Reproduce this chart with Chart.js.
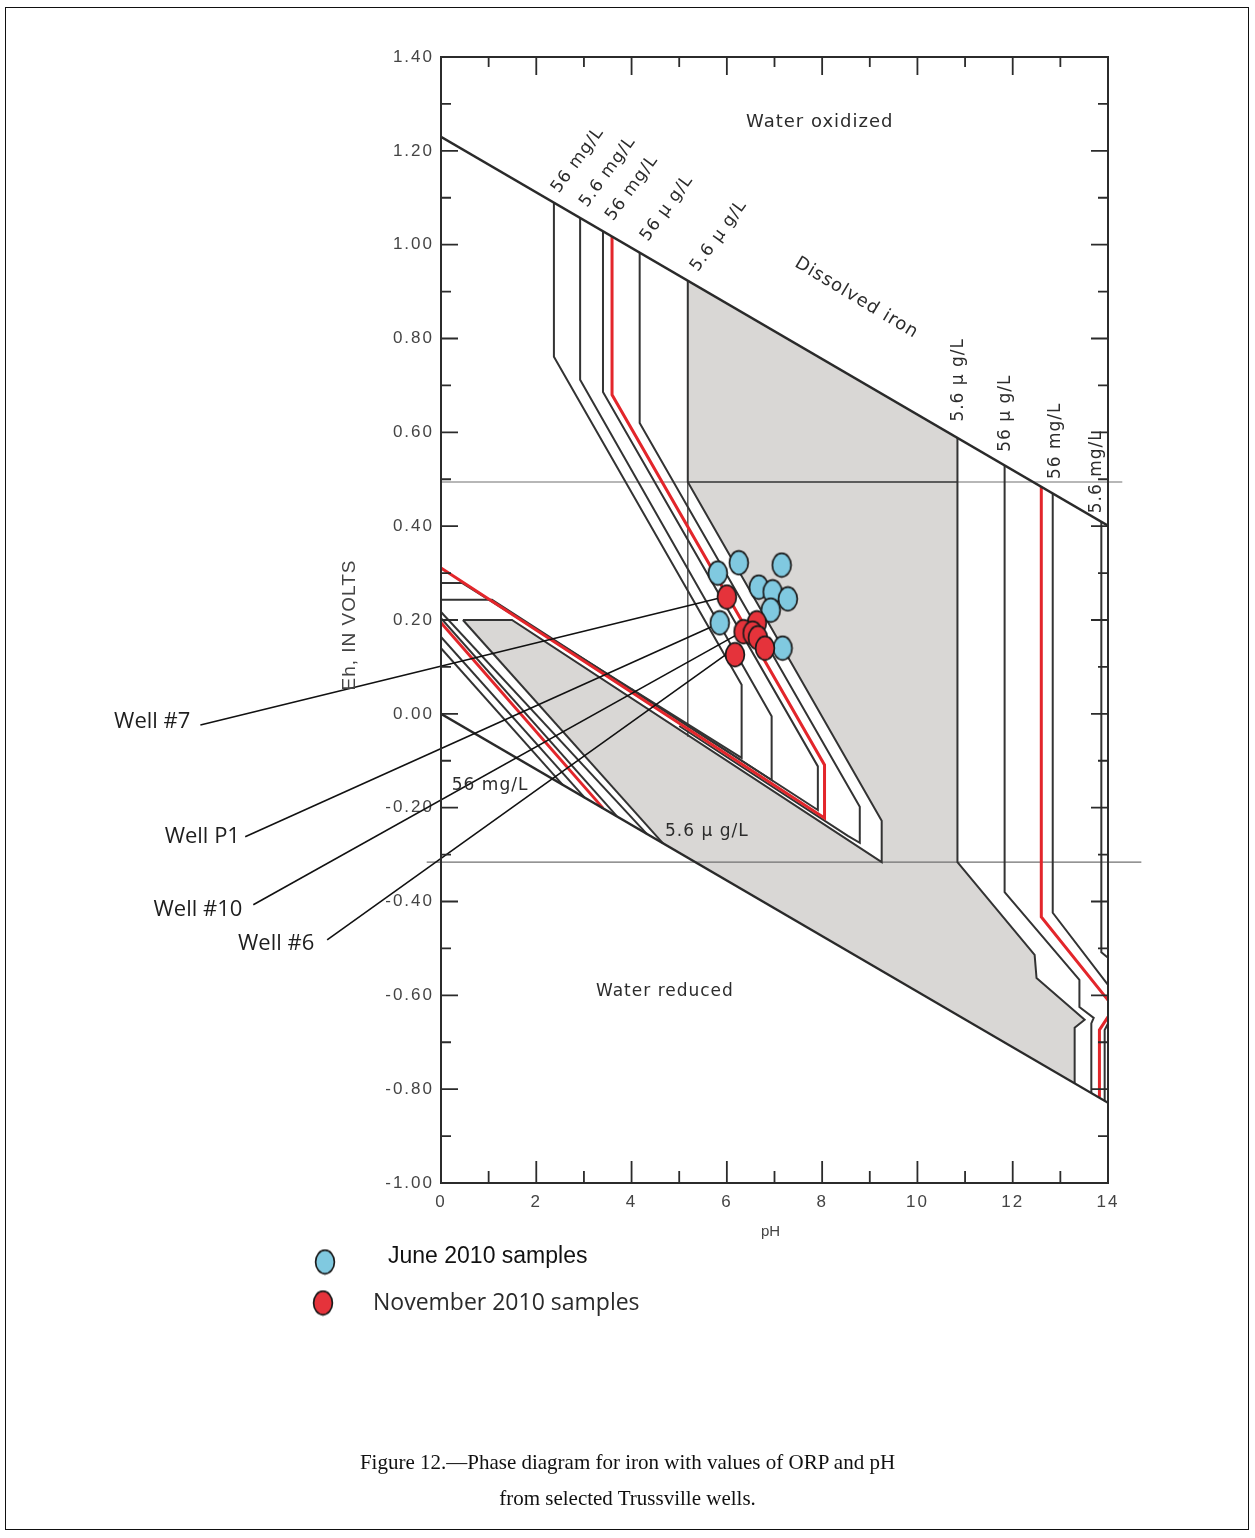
<!DOCTYPE html>
<html><head><meta charset="utf-8">
<script src="https://cdn.jsdelivr.net/npm/chart.js@4.4.1/dist/chart.umd.min.js"></script>
<style>
html,body{margin:0;padding:0;background:#fff;}
#wrap{position:relative;width:1255px;height:1538px;overflow:hidden;background:#fff;}
#frame{position:absolute;left:5px;top:7px;width:1244px;height:1523px;border:1.5px solid #111;box-sizing:border-box;}
#c{position:absolute;left:0;top:0;}
#cap{position:absolute;left:0;width:1255px;top:1444px;text-align:center;font-family:"Liberation Serif","Times New Roman",serif;font-size:21px;line-height:36px;color:#111;}
</style></head><body>
<div id="wrap"><div id="frame"></div><canvas id="c" width="1255" height="1538"></canvas>
<div id="cap">Figure 12.—Phase diagram for iron with values of ORP and pH<br>from selected Trussville wells.</div></div>
<script>
// ---- values: [pH, Eh (volts)] ----
const juneSamples = [[5.81,0.300],[6.25,0.322],[7.15,0.317],[6.67,0.270],[6.96,0.260],[7.28,0.245],[6.92,0.221],[5.85,0.194],[7.17,0.140]];
const novSamples  = [[6.00,0.249],[6.63,0.194],[6.35,0.175],[6.54,0.172],[6.65,0.162],[6.80,0.140],[6.17,0.126]];

const waterUpper = [[0,1.23],[14,0.401]];
const waterLower = [[0,0],[14,-0.829]];
const ehLineHigh = [[0,0.494],[14.3,0.494]];
const ehLineHighDark = [[5.18,0.494],[10.84,0.494]];
const ehLineLow = [[-0.3,-0.316],[14.7,-0.316]];
const pHLine518 = [[5.18,0.494],[5.18,-0.049]];

const contour56mg   = [[2.37,1.090],[2.37,0.761],[6.31,0.062],[6.31,-0.094],[0.44,0.279],[0,0.279]];
const contour5_6mg  = [[2.92,1.057],[2.92,0.712],[6.94,-0.005],[6.94,-0.141],[1.07,0.243],[0,0.243]];
const contourC3     = [[3.40,1.029],[3.40,0.686],[7.91,-0.112],[7.91,-0.205],[4.00,0.052]];
const contourRed    = [[3.59,1.017],[3.59,0.680],[8.05,-0.109],[8.05,-0.222],[0,0.311]];
const contour56ug   = [[4.17,0.983],[4.17,0.620],[8.79,-0.198],[8.79,-0.275],[8.54,-0.260],[5.00,-0.026]];
const contour5_6ug  = [[5.18,0.923],[5.18,0.494],[9.25,-0.228],[9.25,-0.316],[1.49,0.200],[0.46,0.200]];

const lowLeft1   = [[0,0.217],[4.32,-0.256]];
const lowLeft2   = [[0,0.204],[3.69,-0.218]];
const lowLeftRed = [[0,0.194],[3.40,-0.201]];
const lowLeft3   = [[0,0.164],[3.02,-0.179]];
const lowLeft4   = [[0,0.140],[2.56,-0.152]];
const greyEdge   = [[0.46,0.200],[4.66,-0.276]];

const right5_6ug = [[10.84,0.588],[10.84,-0.316],[12.46,-0.514],[12.50,-0.563],[13.51,-0.652],[13.30,-0.669],[13.30,-0.787]];
const right56ug  = [[11.83,0.530],[11.83,-0.380],[13.40,-0.567],[13.40,-0.625],[13.70,-0.648],[13.65,-0.660],[13.65,-0.808]];
const rightRedA  = [[12.60,0.484],[12.60,-0.433],[14,-0.610]];
const rightRedB  = [[14,-0.646],[13.82,-0.674],[13.82,-0.818]];
const right56mg  = [[12.84,0.470],[12.84,-0.424],[14,-0.578]];
const right5_6mg = [[13.86,0.409],[13.86,-0.508],[14,-0.520]];
const rightEdge  = [[14,-0.660],[13.93,-0.674],[13.93,-0.825]];

const greyRegion = [[5.18,0.923],[10.84,0.588],[10.84,-0.316],[12.46,-0.514],[12.50,-0.563],[13.51,-0.652],[13.30,-0.669],[13.30,-0.787],[4.66,-0.276],[0.46,0.200],[1.49,0.200],[9.25,-0.316],[9.25,-0.228],[5.18,0.494],[5.18,0.923]];

const wellNames = ['Well #7','Well P1','Well #10','Well #6'];
const wellLeaders = [
  [[-5.05,-0.024],[5.85,0.247]],
  [[-4.11,-0.262],[5.75,0.189]],
  [[-3.94,-0.407],[6.27,0.172]],
  [[-2.39,-0.482],[6.06,0.132]]
];

// ---- styles ----
const COL = {dark:'#333333', red:'#e3262b', thin:'#707070', grey:'#d9d7d5', text:'#2c2c2c'};

function ellipse(fill){
  const cv=document.createElement('canvas'); cv.width=22; cv.height=27;
  const g=cv.getContext('2d');
  g.beginPath(); g.ellipse(11,13.5,9.4,11.8,0,0,Math.PI*2);
  g.fillStyle=fill; g.fill(); g.lineWidth=1.7; g.strokeStyle='#1a1a1a'; g.stroke();
  return cv;
}
const blueDot = ellipse('#80c9e0');
const redDot  = ellipse('#e5333b');

const datasets=[];
const xy = a => a.map(p=>({x:p[0],y:p[1]}));
function add(arr,color,width,order,extra){
  datasets.push(Object.assign({data:xy(arr),borderColor:color,borderWidth:width,pointRadius:0,pointHoverRadius:0,
    fill:false,showLine:true,tension:0,order:order},extra||{}));
}
add(greyRegion,'rgba(0,0,0,0)',0,40,{fill:'shape',backgroundColor:COL.grey});
add(ehLineHigh,COL.thin,1.1,30,{clip:false});
add(ehLineLow,COL.thin,1.2,30,{clip:false});
add(ehLineHighDark,'#444',1.6,29);
add(pHLine518,'#555',1.5,29);
[contour56mg,contour5_6mg,contourC3,contour56ug,contour5_6ug,lowLeft1,lowLeft2,lowLeft3,lowLeft4,greyEdge,
 right5_6ug,right56ug,right56mg,right5_6mg,rightEdge].forEach(a=>add(a,COL.dark,2,20));
[contourRed,lowLeftRed,rightRedA,rightRedB].forEach(a=>add(a,COL.red,3,15));
add(waterUpper,'#2a2a2a',2.4,12);
add(waterLower,'#2a2a2a',2.4,12);
wellLeaders.forEach(a=>add(a,'#111',1.6,5,{clip:false}));
datasets.push({data:xy(juneSamples),showLine:false,pointStyle:blueDot,pointRadius:10,pointHoverRadius:10,order:2});
datasets.push({data:xy(novSamples),showLine:false,pointStyle:redDot,pointRadius:10,pointHoverRadius:10,order:1});

// annotation placement (text anchored to the diagram)
const F18='18px "DejaVu Sans"', F17='17px "DejaVu Sans"';
const notes = [
  {t:'Water oxidized', x:7.95, y:1.261, rot:0, f:F18},
  {t:'Dissolved iron', x:8.72, y:0.886, rot:31, f:F18},
  {t:'Water reduced', x:4.70, y:-0.593, rot:0, f:F17},
  {t:'56 mg/L', x:1.03, y:-0.152, rot:0, f:F17},
  {t:'5.6 \u03bc g/L', x:5.58, y:-0.252, rot:0, f:F17},
  {t:'56 mg/L', x:2.87, y:1.180, rot:-54, f:F17},
  {t:'5.6 mg/L', x:3.50, y:1.155, rot:-54, f:F17},
  {t:'56 mg/L', x:4.01, y:1.121, rot:-54, f:F17},
  {t:'56 \u03bc g/L', x:4.74, y:1.078, rot:-54, f:F17},
  {t:'5.6 \u03bc g/L', x:5.83, y:1.019, rot:-54, f:F17},
  {t:'5.6 \u03bc g/L', x:10.86, y:0.712, rot:-90, f:F17},
  {t:'56 \u03bc g/L', x:11.85, y:0.641, rot:-90, f:F17},
  {t:'56 mg/L', x:12.90, y:0.582, rot:-90, f:F17},
  {t:'5.6 mg/L', x:13.76, y:0.516, rot:-90, f:F17}
];
const wellLabelAt = [[-5.26,-0.017],[-4.22,-0.262],[-4.17,-0.418],[-2.66,-0.490]];

const spacing = {
  id:'spacing',
  beforeDraw(chart){ chart.ctx.letterSpacing='2px'; }
};

const deco = {
  id:'deco',
  afterDatasetsDraw(chart){
    const {ctx, chartArea:a, scales:{x,y}} = chart;
    ctx.save();
    ctx.strokeStyle='#2b2b2b'; ctx.lineWidth=2;
    ctx.strokeRect(a.left,a.top,a.right-a.left,a.bottom-a.top);
    ctx.lineWidth=1.8; ctx.beginPath();
    for(let i=-9;i<=13;i++){
      const py=y.getPixelForValue(i/10), L=(i%2===0)?17:10;
      ctx.moveTo(a.left,py); ctx.lineTo(a.left+L,py);
      ctx.moveTo(a.right,py); ctx.lineTo(a.right-L,py);
    }
    for(let p=1;p<=13;p++){
      const px=x.getPixelForValue(p), mj=p%2===0;
      ctx.moveTo(px,a.bottom); ctx.lineTo(px,a.bottom-(mj?22:12));
      ctx.moveTo(px,a.top); ctx.lineTo(px,a.top+(mj?18:10));
    }
    ctx.stroke();
    ctx.fillStyle=COL.text; ctx.textBaseline='middle';
    notes.forEach(n=>{
      ctx.save(); ctx.translate(x.getPixelForValue(n.x),y.getPixelForValue(n.y));
      ctx.rotate(n.rot*Math.PI/180); ctx.font=n.f; ctx.textAlign='center';
      ctx.letterSpacing='1px';
      ctx.fillText(n.t,0,0); ctx.restore();
    });
    ctx.letterSpacing='0px';
    // well labels
    ctx.fillStyle='#1e1e1e'; ctx.font='22px "Open Sans"'; ctx.textAlign='right';
    wellNames.forEach((w,i)=>{
      ctx.fillText(w,x.getPixelForValue(wellLabelAt[i][0]),y.getPixelForValue(wellLabelAt[i][1]));
    });
    // axis titles
    ctx.fillStyle='#444'; ctx.font='15px "Liberation Sans"'; ctx.textAlign='center';
    ctx.fillText('pH',(a.left+a.right)/2-4,1232);
    ctx.save(); ctx.translate(350,625); ctx.rotate(-Math.PI/2);
    ctx.letterSpacing='1px';
    ctx.font='19px "Liberation Sans"'; ctx.fillText('Eh, IN VOLTS',0,0); ctx.restore();
    // legend
    ctx.drawImage(blueDot,325-11,1262-13.5);
    ctx.drawImage(redDot,323-11,1303-13.5);
    ctx.textAlign='left'; ctx.fillStyle='#111'; ctx.font='23px "Liberation Sans"';
    ctx.fillText('June 2010 samples',388,1257);
    ctx.fillStyle='#2a2a2a'; ctx.font='23px "Open Sans"';
    ctx.fillText('November 2010 samples',373,1303);
    ctx.restore();
  }
};

new Chart(document.getElementById('c'),{
  type:'line',
  data:{datasets},
  options:{
    responsive:false, animation:false, devicePixelRatio:1,
    layout:{padding:{left:371,right:147,top:57,bottom:315}},
    plugins:{legend:{display:false},tooltip:{enabled:false}},
    events:[],
    scales:{
      x:{type:'linear',min:0,max:14,
         grid:{display:false,drawTicks:false},border:{display:false},
         ticks:{stepSize:2,padding:9,color:'#444',font:{family:'Liberation Sans',size:17}},
         afterFit:s=>{s.height=40;}},
      y:{type:'linear',min:-1,max:1.4,
         grid:{display:false,drawTicks:false},border:{display:false},
         ticks:{stepSize:0.2,padding:7,color:'#444',font:{family:'Liberation Sans',size:17},
                callback:v=>Math.abs(v)<1e-9?'0.00':Number(v).toFixed(2)},
         afterFit:s=>{s.width=70;}}
    }
  },
  plugins:[spacing,deco]
});
</script></body></html>
